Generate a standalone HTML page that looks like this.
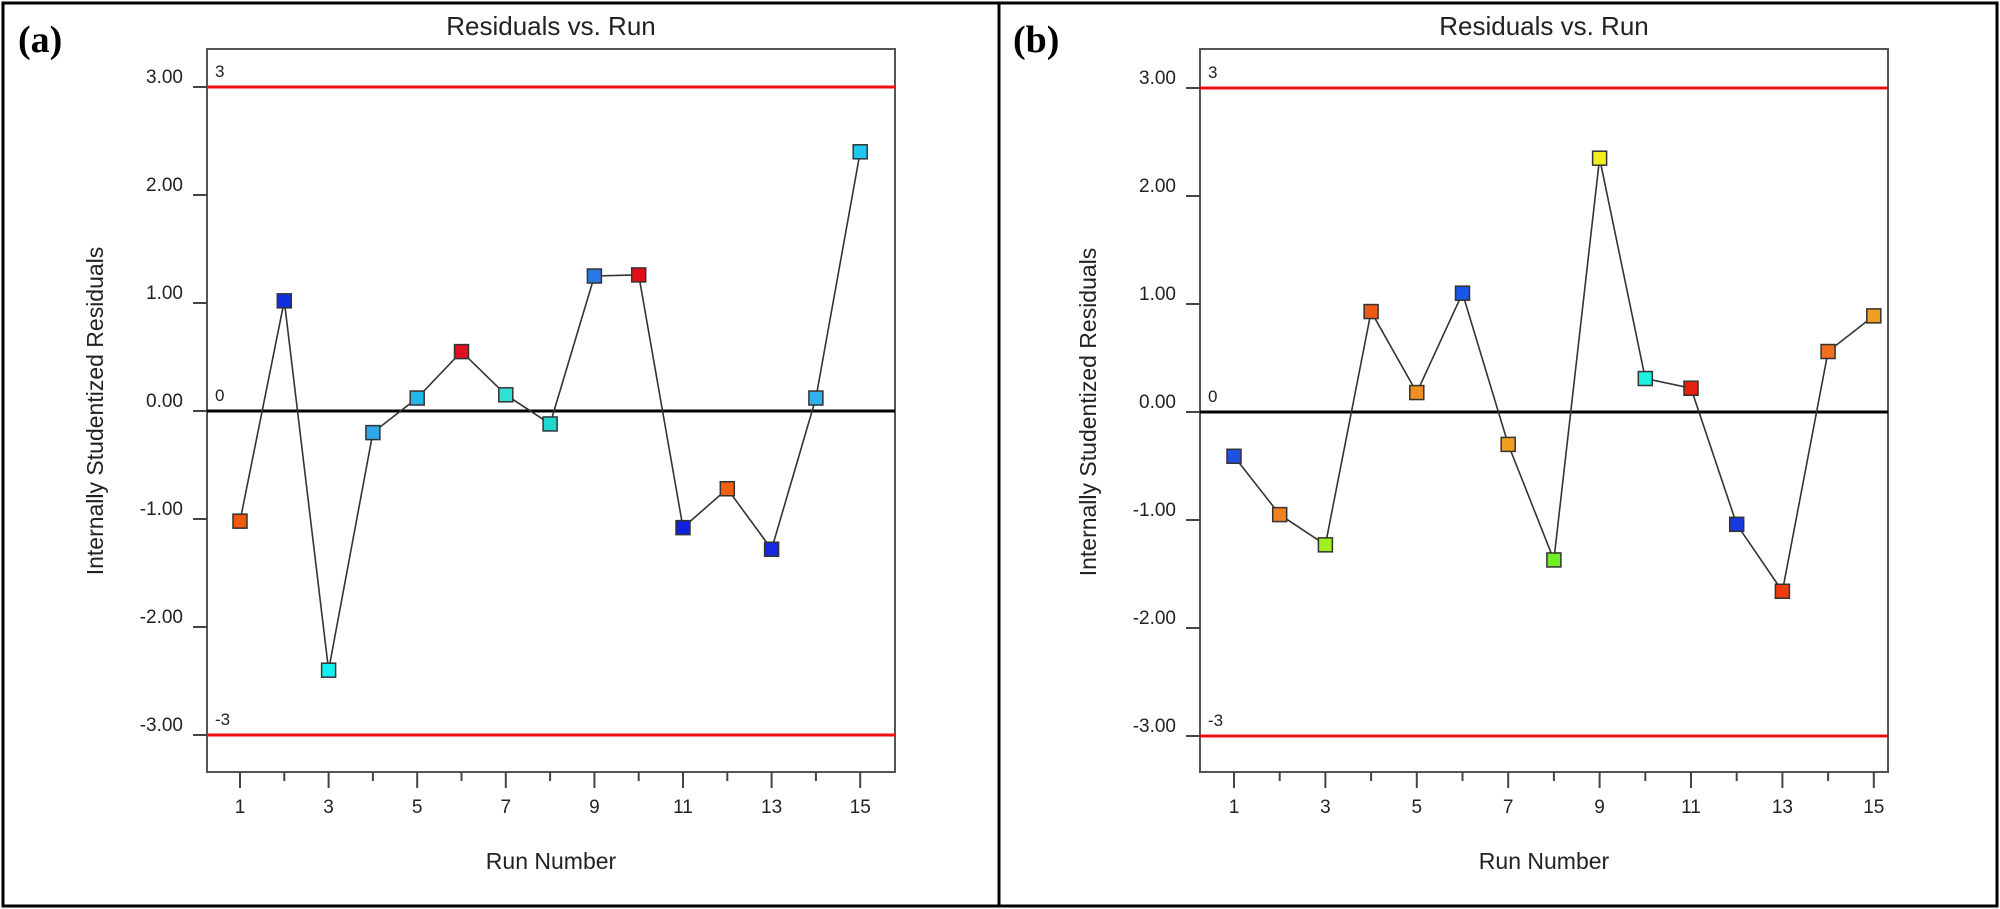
<!DOCTYPE html>
<html><head><meta charset="utf-8"><style>
html,body{margin:0;padding:0;background:#fff;}
svg{display:block;}
text{font-family:"Liberation Sans",sans-serif;fill:#222;}
</style></head><body>
<svg width="2000" height="909" viewBox="0 0 2000 909" xmlns="http://www.w3.org/2000/svg">
<rect x="3" y="3" width="1994" height="903" fill="none" stroke="#000" stroke-width="3"/>
<line x1="999" y1="3" x2="999" y2="906" stroke="#000" stroke-width="3"/>
<text x="18" y="52" style="font-family:'Liberation Serif',serif;font-weight:bold;font-size:38px;fill:#000">(a)</text>
<text x="1013" y="52" style="font-family:'Liberation Serif',serif;font-weight:bold;font-size:38px;fill:#000">(b)</text>
<g id="charts"></g>
</svg>
<script>
(function(){
const ns="http://www.w3.org/2000/svg";
const g=document.getElementById("charts");
function el(t,a,txt){const e=document.createElementNS(ns,t);for(const k in a)e.setAttribute(k,a[k]);if(txt!==undefined)e.textContent=txt;g.appendChild(e);return e;}
function chart(L,R,x1,dx,y0,data,cols){
  const T=49,B=772,U=108;
  const Y=v=>y0-v*U;
  el("text",{x:(L+R)/2,y:35,"text-anchor":"middle","font-size":"26"},"Residuals vs. Run");
  el("rect",{x:L,y:T,width:R-L,height:B-T,fill:"none",stroke:"#555","stroke-width":"2"});
  [3,2,1,0,-1,-2,-3].forEach(v=>{
    el("line",{x1:L-14,y1:Y(v),x2:L,y2:Y(v),stroke:"#444","stroke-width":"2"});
    el("text",{x:L-24,y:Y(v)-4,"text-anchor":"end","font-size":"19"},v.toFixed(2));
  });
  for(let i=1;i<=15;i++){
    const x=x1+(i-1)*dx;
    el("line",{x1:x,y1:B,x2:x,y2:B+(i%2?16:9),stroke:"#444","stroke-width":"2"});
    if(i%2) el("text",{x:x,y:813,"text-anchor":"middle","font-size":"19"},String(i));
  }
  el("text",{x:(L+R)/2,y:869,"text-anchor":"middle","font-size":"23"},"Run Number");
  el("text",{x:0,y:0,"text-anchor":"middle","font-size":"23",transform:`translate(${L-104},${y0}) rotate(-90)`},"Internally Studentized Residuals");
  el("line",{x1:L,y1:Y(3),x2:R,y2:Y(3),stroke:"#f01010","stroke-width":"3"});
  el("line",{x1:L,y1:Y(-3),x2:R,y2:Y(-3),stroke:"#f01010","stroke-width":"3"});
  el("line",{x1:L,y1:y0,x2:R,y2:y0,stroke:"#000","stroke-width":"3"});
  el("text",{x:L+8,y:Y(3)-10,"font-size":"17"},"3");
  el("text",{x:L+8,y:y0-10,"font-size":"17"},"0");
  el("text",{x:L+8,y:Y(-3)-10,"font-size":"17"},"-3");
  el("polyline",{points:data.map((v,i)=>`${x1+i*dx},${Y(v)}`).join(" "),fill:"none",stroke:"#333","stroke-width":"1.6"});
  data.forEach((v,i)=>{el("rect",{x:x1+i*dx-7,y:Y(v)-7,width:14,height:14,fill:cols[i],stroke:"#333","stroke-width":"1.5"});});
}
chart(207,895,240,44.3,411,
 [-1.02,1.02,-2.40,-0.20,0.12,0.55,0.15,-0.12,1.25,1.26,-1.08,-0.72,-1.28,0.12,2.40],
 ["#f05a0a","#1030e0","#10f0f0","#30a8e8","#20b8e8","#e01020","#30e0d0","#20d8d0","#2878e8","#e0101a","#1020e0","#f06010","#1828e0","#30b0f0","#20c8f0"]);
chart(1200,1888,1234,45.7,412,
 [-0.41,-0.95,-1.23,0.93,0.18,1.10,-0.30,-1.37,2.35,0.31,0.22,-1.04,-1.66,0.56,0.89],
 ["#2050e0","#f08020","#a0f020","#f05a10","#f09020","#1858e8","#f0a020","#70f020","#f0f020","#20f0e0","#e82010","#1838e0","#f03a10","#f07020","#f0a020"]);
})();
</script>
</body></html>
